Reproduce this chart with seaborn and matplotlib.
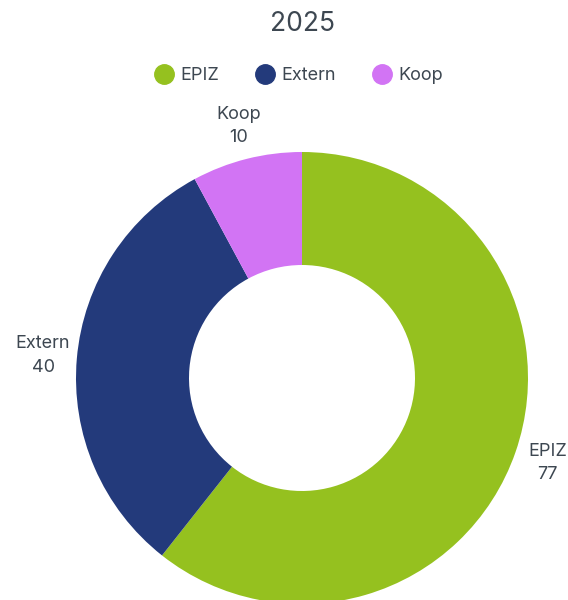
import seaborn as sns
import matplotlib.pyplot as plt
from matplotlib.lines import Line2D

# Data
categories = ['EPIZ', 'Extern', 'Koop']
values = [77, 40, 10]
colors = ['#95c11f', '#233a7b', '#d274f4']
title = '2025'

sns.set_theme(style='white')
plt.rcParams['font.family'] = ['Inter', 'DejaVu Sans']
text_color = '#3d4751'

fig = plt.figure(figsize=(5.68, 6), dpi=100)
ax = fig.add_axes([0, 0, 1, 1])

labels = [f'{c}\n{v}' for c, v in zip(categories, values)]
wedges, texts = ax.pie(values, colors=colors, labels=labels, startangle=90,
                       counterclock=False, center=(302, 222), radius=226,
                       labeldistance=1.15, frame=True,
                       wedgeprops=dict(width=113, linewidth=0),
                       textprops=dict(fontsize=13, color=text_color))
ax.set_xlim(0, 568)
ax.set_ylim(0, 600)
ax.set_aspect('equal')
ax.axis('off')
for t in texts:
    t.set_ha('center')
    t.set_va('center')
    t.set_multialignment('center')
    t.set_linespacing(1.5)

fig.text(302 / 568, 1 - 24 / 600, title, ha='center', va='center',
         fontsize=19, color=text_color)

handles = [Line2D([], [], marker='o', linestyle='', markersize=14,
                  markerfacecolor=c, markeredgecolor=c) for c in colors]
fig.legend(handles, categories, loc='center', bbox_to_anchor=(298 / 568, 1 - 76 / 600),
           ncol=3, frameon=False, fontsize=13, labelcolor=text_color,
           handletextpad=0.35, columnspacing=1.9, handlelength=1.2)

fig.savefig('out.png', dpi=100, facecolor='white')
